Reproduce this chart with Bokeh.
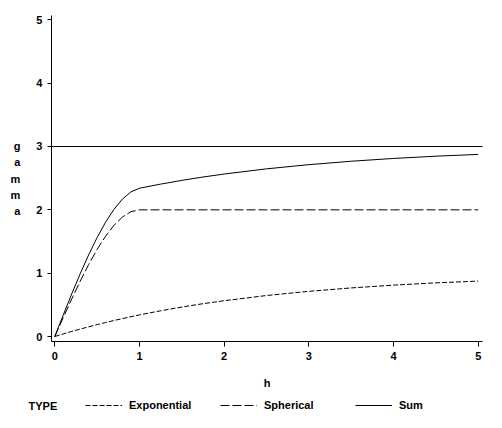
from bokeh.plotting import figure
from bokeh.models import Range1d, FixedTicker, Label, Legend, LegendItem, LinearAxis
from bokeh.embed import file_html
from bokeh.resources import INLINE

# ---- data ----
h = [0, 0.1, 0.2, 0.3, 0.4, 0.5, 0.6, 0.7, 0.8, 0.9, 1.0,
     1.25, 1.5, 1.75, 2.0, 2.5, 3.0, 3.5, 4.0, 4.5, 5.0]
exponential = [0, 0.041, 0.080, 0.117, 0.153, 0.188, 0.221, 0.253, 0.283, 0.313, 0.341,
               0.406, 0.465, 0.518, 0.565, 0.647, 0.713, 0.767, 0.811, 0.847, 0.875]
spherical = [0, 0.299, 0.592, 0.873, 1.136, 1.375, 1.584, 1.757, 1.888, 1.971, 2.0,
             2.0, 2.0, 2.0, 2.0, 2.0, 2.0, 2.0, 2.0, 2.0, 2.0]
total = [0, 0.340, 0.672, 0.990, 1.289, 1.563, 1.805, 2.010, 2.171, 2.284, 2.341,
         2.406, 2.465, 2.518, 2.565, 2.647, 2.713, 2.767, 2.811, 2.847, 2.875]
sill = 3
x_ticks = [0, 1, 2, 3, 4, 5]
y_ticks = [0, 1, 2, 3, 4, 5]
series_names = ["Exponential", "Spherical", "Sum"]
series_dash = ["5 2", "9 3", "solid"]
legend_title = "TYPE"
x_title = "h"
y_title = "gamma"

FONT = "Liberation Sans"
FSIZE = "11px"
FSTYLE = "bold"

# axis extents (in data units) of the drawn axis box
x_lo, x_hi = -0.039, 5.051
y_lo, y_hi = -0.079, 5.068

p = figure(width=502, height=428, output_backend="svg", toolbar_location=None,
           x_range=Range1d(-0.641, 5.287), y_range=Range1d(-1.4525, 5.305),
           x_axis_location=None, y_axis_location=None,
           min_border=0, min_border_left=0, min_border_right=0,
           min_border_top=0, min_border_bottom=0)
p.outline_line_color = None
p.grid.visible = False

xaxis = LinearAxis(fixed_location=y_lo, bounds=(x_lo, x_hi), axis_label=x_title,
                   ticker=FixedTicker(ticks=x_ticks))
yaxis = LinearAxis(fixed_location=x_lo, bounds=(y_lo, y_hi),
                   axis_label="\n".join(y_title), ticker=FixedTicker(ticks=y_ticks))
for ax in (xaxis, yaxis):
    ax.axis_line_color = "black"
    ax.major_tick_line_color = "black"
    ax.minor_tick_line_color = None
    ax.major_tick_in = 0
    ax.major_label_text_font = FONT
    ax.major_label_text_font_size = FSIZE
    ax.major_label_text_font_style = FSTYLE
    ax.major_label_text_color = "black"
    ax.axis_label_text_font = FONT
    ax.axis_label_text_font_size = FSIZE
    ax.axis_label_text_font_style = FSTYLE
    ax.axis_label_text_color = "black"
    ax.major_label_standoff = 5
xaxis.major_tick_out = 5
yaxis.major_tick_out = 4
xaxis.axis_label_standoff = 14
yaxis.axis_label_orientation = "horizontal"
yaxis.axis_label_standoff = 13
yaxis.axis_label_text_line_height = 1.35
p.add_layout(xaxis, "below")
p.add_layout(yaxis, "left")

# reference line at the sill, spanning the axis box
p.segment(x0=[x_lo], x1=[x_hi], y0=[sill], y1=[sill], line_color="black", line_width=1)

renderers = []
for ys, dash in zip([exponential, spherical, total], series_dash):
    renderers.append(p.line(h, ys, line_color="black", line_width=1, line_dash=dash))

legend = Legend(items=[LegendItem(label=n, renderers=[r]) for n, r in zip(series_names, renderers)],
                orientation="horizontal", location=(85, 17),
                glyph_width=37, glyph_height=12, label_height=12, label_width=91,
                label_standoff=7, spacing=0, padding=0, margin=0,
                border_line_color=None, background_fill_alpha=0,
                label_text_font=FONT, label_text_font_size=FSIZE,
                label_text_font_style=FSTYLE, label_text_color="black")
p.add_layout(legend)

p.add_layout(Label(x=28, y=428 - 405, x_units="screen", y_units="screen",
                   text=legend_title, text_font=FONT, text_font_size=FSIZE,
                   text_font_style=FSTYLE, text_align="left", text_baseline="middle",
                   text_color="black"))

open("out.html", "w").write(file_html(p, INLINE))
